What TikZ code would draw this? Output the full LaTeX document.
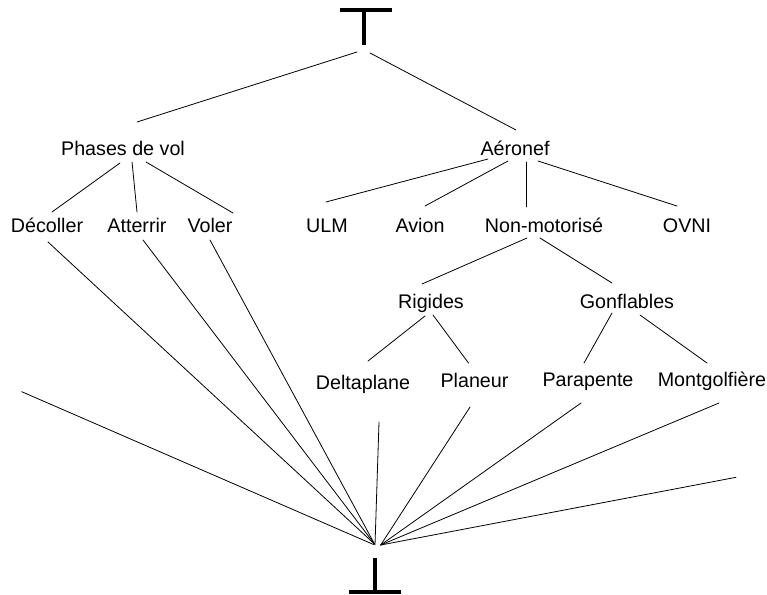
\documentclass[tikz,border=0pt]{standalone}
\usepackage{fontspec}
\setmainfont{Liberation Sans}
\usetikzlibrary{calc}
\begin{document}
\begin{tikzpicture}[x=1pt,y=-1pt,
  lab/.style={anchor=base, inner sep=0pt, font=\fontsize{19.7}{22}\selectfont},
  edge/.style={line width=0.8pt, line cap=round},
  bold/.style={line width=4pt}]
\useasboundingbox (0,0) rectangle (767,594);
% top and bottom symbols
\coordinate (top) at (364,10);
\coordinate (bot) at (375,558);
\draw[bold] (340,10) -- (392,10);
\draw[bold] (top) -- (364,45);
\draw[bold] (bot) -- (375,590);
\draw[bold] (349,591.5) -- (401,591.5);
% labels
\node[lab] (pv)  at (123,155) {Phases de vol};
\node[lab] (aer) at (515,155) {Aéronef};
\node[lab] (dec) at (47,232) {Décoller};
\node[lab] (att) at (137,232) {Atterrir};
\node[lab] (vol) at (210,232) {Voler};
\node[lab] (ulm) at (327,232) {ULM};
\node[lab] (avi) at (420,232) {Avion};
\node[lab] (nm)  at (544,232) {Non-motorisé};
\node[lab] (ovni) at (687,232) {OVNI};
\node[lab] (rig) at (431,308) {Rigides};
\node[lab] (gon) at (627,308) {Gonflables};
\node[lab] (del) at (363,389) {Deltaplane};
\node[lab] (pla) at (474.5,387) {Planeur};
\node[lab] (par) at (588,386) {Parapente};
\node[lab] (mon) at (712,386) {Montgolfière};
\coordinate (freeL) at (21.7,391.7);
\coordinate (freeR) at (736,477.3);
% top edges
\draw[edge] ($(top)+(-7,42)$) -- ($(pv.base)+(14,-33)$);
\draw[edge] ($(top)+(6,43)$) -- ($(aer.base)+(1,-25)$);
% phases
\draw[edge] ($(pv.base)+(-3,8)$) -- ($(dec.base)+(5,-20)$);
\draw[edge] ($(pv.base)+(9,7)$) -- ($(att.base)+(0,-20)$);
\draw[edge] ($(pv.base)+(23,7)$) -- ($(vol.base)+(23,-19)$);
% aeronef
\draw[edge] ($(aer.base)+(-27,4)$) -- ($(ulm.base)+(-1,-30)$);
\draw[edge] ($(aer.base)+(-7,6)$) -- ($(avi.base)+(5,-26)$);
\draw[edge] ($(aer.base)+(11,7)$) -- ($(nm.base)+(-18,-25)$);
\draw[edge] ($(aer.base)+(23,6)$) -- ($(ovni.base)+(-10,-26)$);
% non-motorise
\draw[edge] ($(nm.base)+(-17,6)$) -- ($(rig.base)+(-9,-24)$);
\draw[edge] ($(nm.base)+(-4,6)$) -- ($(gon.base)+(-15,-25)$);
% rigides / gonflables
\draw[edge] ($(rig.base)+(-6,8)$) -- ($(del.base)+(5,-28)$);
\draw[edge] ($(rig.base)+(2,7)$) -- ($(pla.base)+(-6,-24)$);
\draw[edge] ($(gon.base)+(-15,5)$) -- ($(par.base)+(-4,-23)$);
\draw[edge] ($(gon.base)+(13,7)$) -- ($(mon.base)+(-5,-23)$);
% bottom fan
\draw[edge] ($(dec.base)+(1,10)$) -- ($(bot)+(-0.5,-14)$);
\draw[edge] ($(att.base)+(6,8)$) -- ($(bot)+(-0.5,-14)$);
\draw[edge] ($(vol.base)+(0,8)$) -- ($(bot)+(-0.5,-14)$);
\draw[edge] (freeL) -- ($(bot)+(-1.5,-13.5)$);
\draw[edge] ($(del.base)+(16,33)$) -- ($(bot)+(0,-13)$);
\draw[edge] ($(pla.base)+(-4.5,20)$) -- ($(bot)+(5.7,-13)$);
\draw[edge] ($(par.base)+(-7,17)$) -- ($(bot)+(5.7,-13)$);
\draw[edge] ($(mon.base)+(7,17)$) -- ($(bot)+(5.7,-13)$);
\draw[edge] (freeR) -- ($(bot)+(5.7,-13)$);
\end{tikzpicture}
\end{document}
